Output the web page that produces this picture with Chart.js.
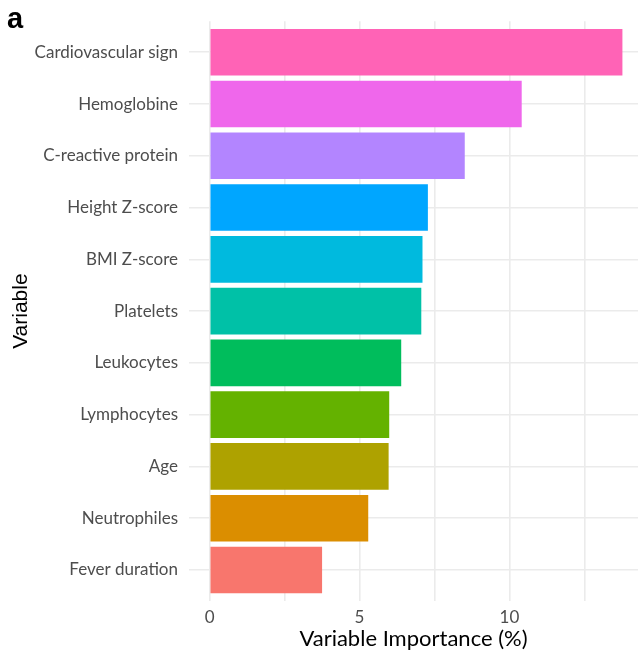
<!DOCTYPE html>
<html>
<head>
<meta charset="utf-8">
<script src="https://cdn.jsdelivr.net/npm/chart.js@4/dist/chart.umd.min.js"></script>
<style>
html,body{margin:0;padding:0;background:#ffffff;}
#wrap{position:relative;width:638px;height:653px;}
</style>
</head>
<body>
<div id="wrap"><canvas id="c" width="638" height="653"></canvas></div>
<script>
// ---- data (top to bottom as shown) ----
const categories = ["Cardiovascular sign","Hemoglobine","C-reactive protein","Height Z-score","BMI Z-score","Platelets","Leukocytes","Lymphocytes","Age","Neutrophiles","Fever duration"];
const importance = [13.77,10.41,8.51,7.28,7.10,7.06,6.39,5.99,5.97,5.29,3.75];
const xTickValues = [0,2.5,5,7.5,10,12.5];
const xTickLabels = ["0","","5","","10",""];
const panelLetter = "a";
const xTitle = "Variable Importance (%)";
const yTitle = "Variable";

// ---- styles ----
const barColors = ["#FF63B6","#EF67EB","#B385FF","#00A6FF","#00BADE","#00C1A7","#00BD5C","#64B200","#AEA200","#DB8E00","#F8766D"];
const labelFont = "Lato";

const points = importance.map((v,i)=>({x:v, y:i}));

const letterPlugin = {
  id:'letter',
  afterDraw(chart){
    const ctx = chart.ctx;
    ctx.save();
    ctx.font = "bold 29px 'Liberation Sans', Arial, sans-serif";
    ctx.fillStyle = "#000";
    ctx.textBaseline = "alphabetic";
    ctx.textAlign = "left";
    ctx.fillText(panelLetter, 7, 28);
    ctx.restore();
  }
};

new Chart(document.getElementById('c'), {
  type:'bar',
  data:{
    datasets:[{
      data: points,
      backgroundColor: barColors,
      borderWidth: 0,
      barPercentage: 0.9,
      categoryPercentage: 1.0
    }]
  },
  options:{
    indexAxis:'y',
    responsive:false,
    animation:false,
    devicePixelRatio:1,
    layout:{padding:{top:19,left:0,right:0,bottom:0}},
    plugins:{legend:{display:false},tooltip:{enabled:false}},
    scales:{
      x:{
        type:'linear',
        min:-0.69,
        max:14.29,
        afterBuildTicks(scale){ scale.ticks = xTickValues.map(v=>({value:v})); },
        afterFit(scale){ scale.height = 52; },
        border:{display:false},
        grid:{color:'#EBEBEB', lineWidth:1.6, drawTicks:false},
        ticks:{
          padding:6,
          color:'#4D4D4D',
          font:{family:labelFont, size:17},
          callback(v, idx){ return xTickLabels[idx]; },
          maxRotation:0, autoSkip:false
        },
        title:{display:true, text:xTitle, color:'#000', font:{family:labelFont, size:22}, padding:{top:0,bottom:1}}
      },
      y:{
        type:'linear',
        reverse:true,
        offset:false,
        min:-0.6,
        max:categories.length-1+0.6,
        afterBuildTicks(scale){ scale.ticks = categories.map((c,i)=>({value:i})); },
        afterFit(scale){ scale.width = 189; },
        border:{display:false},
        grid:{color:'#EBEBEB', lineWidth:1.6, drawTicks:false, offset:false},
        ticks:{
          padding:11,
          color:'#4D4D4D',
          font:{family:labelFont, size:17},
          callback(v, idx){ return categories[idx]; },
          autoSkip:false
        },
        title:{display:true, text:yTitle, color:'#000', font:{family:"'Liberation Sans', Arial, sans-serif", size:21}, padding:{top:9,bottom:0}}
      }
    }
  },
  plugins:[letterPlugin]
});
</script>
</body>
</html>
